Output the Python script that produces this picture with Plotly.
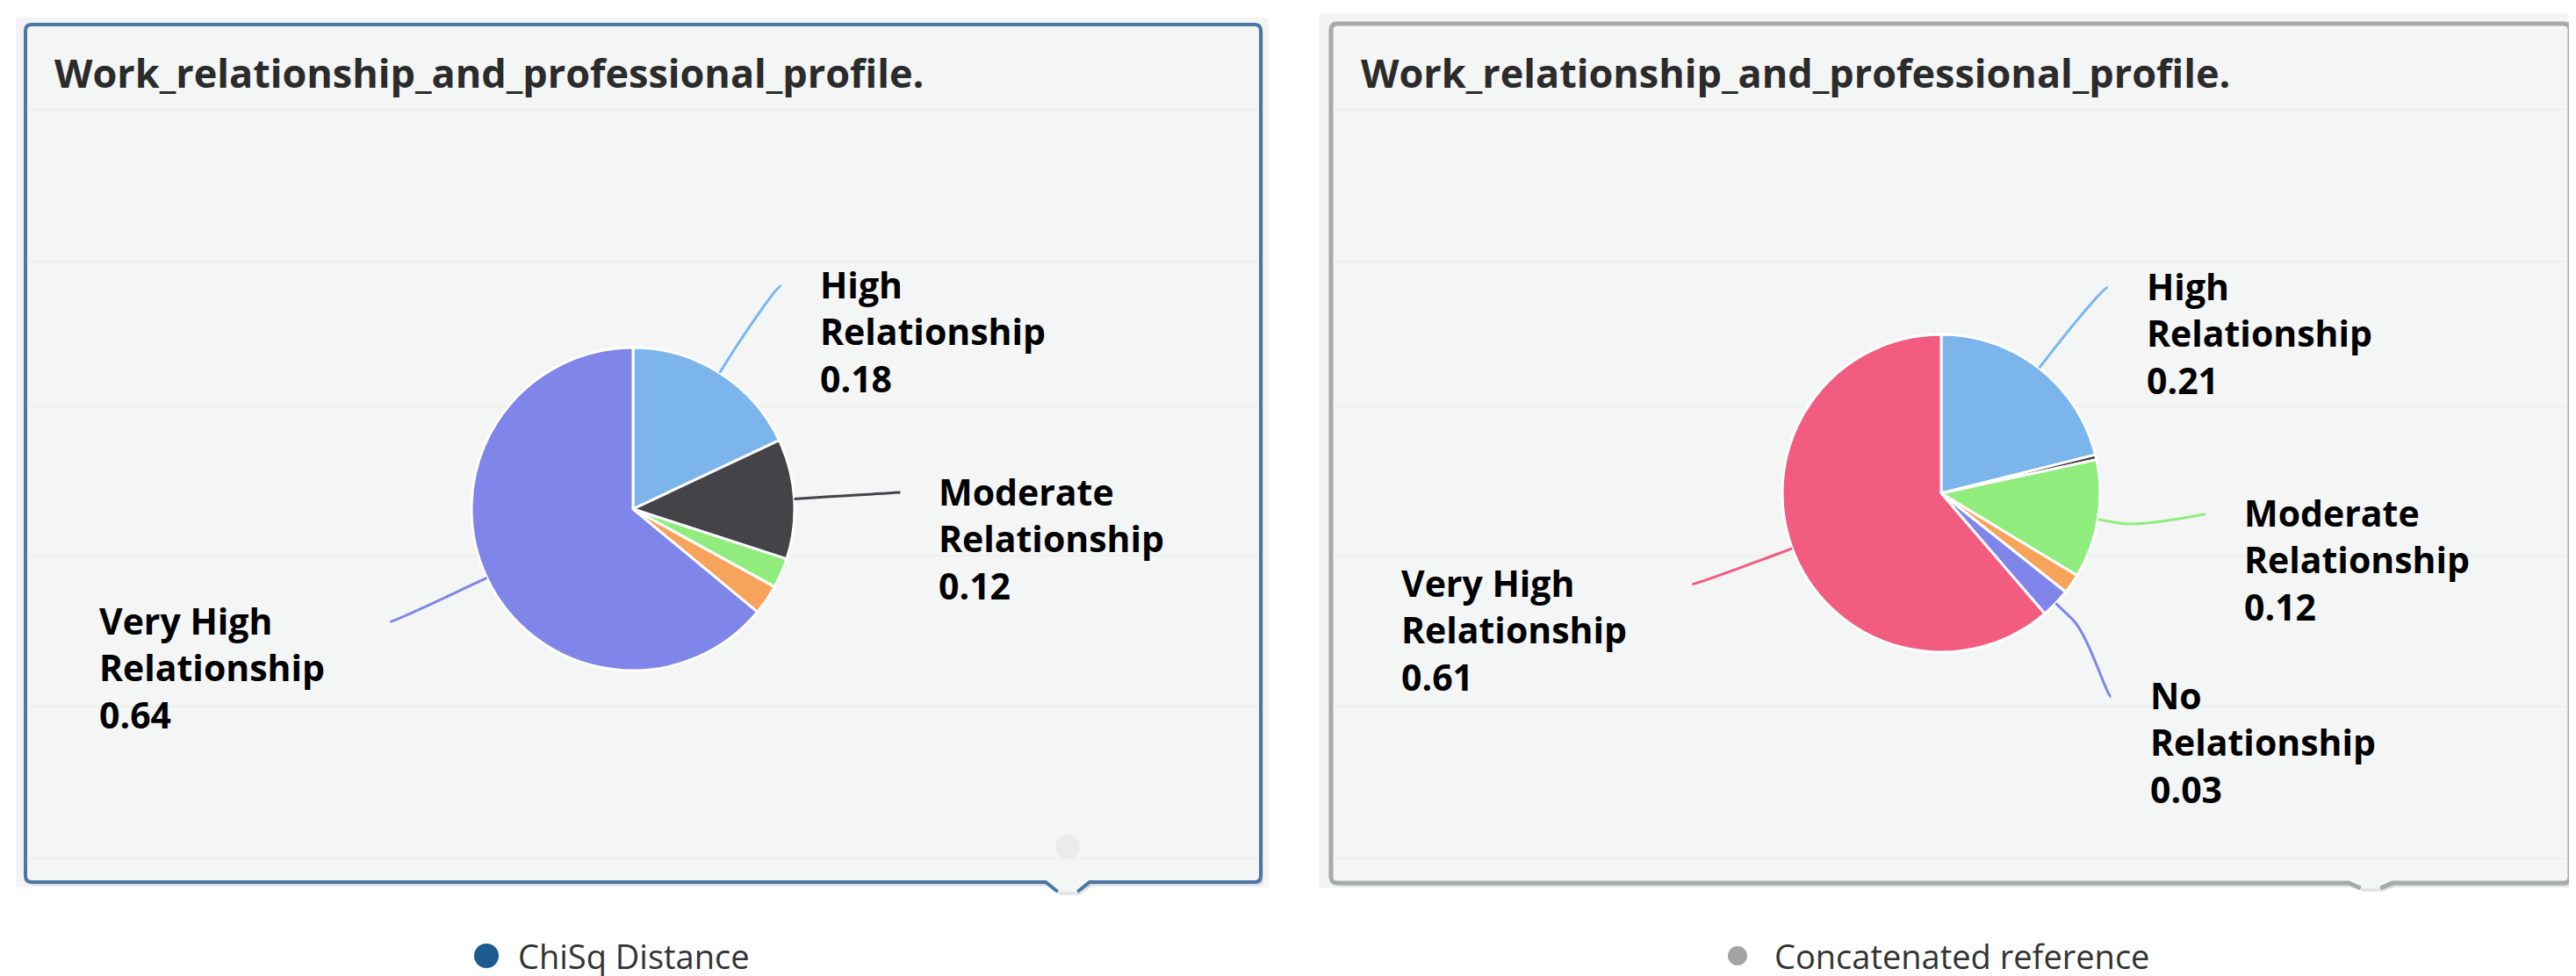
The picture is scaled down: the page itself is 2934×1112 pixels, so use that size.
import math
import plotly.graph_objects as go

# ---------------- data ----------------
chart_title = "Work_relationship_and_professional_profile."

left_series = "ChiSq Distance"
left_labels = ["High Relationship", "Moderate Relationship", "Low Relationship",
               "No Relationship", "Very High Relationship"]
left_values = [0.18, 0.12, 0.03, 0.03, 0.64]
left_shown = [True, True, False, False, True]

right_series = "Concatenated reference"
right_labels = ["High Relationship", "Unknown Relationship", "Moderate Relationship",
                "Low Relationship", "No Relationship", "Very High Relationship"]
right_values = [0.21, 0.005, 0.12, 0.02, 0.03, 0.61]
right_shown = [True, False, True, False, True, True]

palette = ["#7cb5ec", "#434348", "#90ed7d", "#f7a35c", "#8085e9", "#f15c80"]

# ---------------- layout helpers ----------------
W, H = 2934, 1112


def X(px):
    return px / W


def Y(py):
    return 1 - py / H


def P(px, py):
    return f"{X(px):.6f},{Y(py):.6f}"


FONT = "Open Sans"
panel_bg = "#f4f5f5"

panels = [
    dict(x0=21, y0=20, x1=1428, y1=997, nx=1208, nd=11, border="#4b76a6", bw=4,
         outer=(10, 12, 1437, 1003), legend_color="#1d5a8e", legend_r=14,
         legend_x=546, text_x=580, title_x=52,
         cx=713, cy=572, r=184,
         labels=left_labels, values=left_values, shown=left_shown, series=left_series),
    dict(x0=1508, y0=19, x1=2919, y1=998, nx=2692, nd=6, border="#a7a9ab", bw=5,
         outer=(1494, 8, 2925, 1004), legend_color="#a3a3a3", legend_r=11,
         legend_x=1971, text_x=2011, title_x=1540,
         cx=2203, cy=554, r=181,
         labels=right_labels, values=right_values, shown=right_shown, series=right_series),
]

grid_y = [117, 290, 455, 625, 797, 970]


def panel_outline(p, closed, dx=0, dy=0, rad=7, nw=25):
    x0, y0, x1, y1, nx, nd = p["x0"] + dx, p["y0"] + dy, p["x1"] + dx, p["y1"] + dy, p["nx"] + dx, p["nd"]
    s = f"M{P(nx + nw * 0.45, y1 + nd)} L{P(nx + nw, y1)} L{P(x1 - rad, y1)} "
    s += f"Q{P(x1, y1)} {P(x1, y1 - rad)} L{P(x1, y0 + rad)} Q{P(x1, y0)} {P(x1 - rad, y0)} "
    s += f"L{P(x0 + rad, y0)} Q{P(x0, y0)} {P(x0, y0 + rad)} L{P(x0, y1 - rad)} "
    s += f"Q{P(x0, y1)} {P(x0 + rad, y1)} L{P(nx - nw, y1)} L{P(nx - nw * 0.45, y1 + nd)}"
    if closed:
        s += " Z"
    return s


def distribute(items, slot):
    """Push label anchors apart vertically (Highcharts-like)."""
    items.sort(key=lambda d: d["y"])
    for _ in range(50):
        moved = False
        for a, b in zip(items, items[1:]):
            gap = b["y"] - a["y"]
            if gap < slot - 0.5:
                d = (slot - gap) / 2
                a["y"] -= d
                b["y"] += d
                moved = True
        if not moved:
            break
    return items


fig = go.Figure()
shapes = []
annotations = []

dist_y = 117          # label radius (vertical) beyond pie edge
dist_x = 121          # label radius (horizontal) beyond pie edge
label_slot = 208      # vertical room needed by one 3-line label
break_off = 26        # connector break distance
gap_right, gap_left = 42, 72
label_font = dict(family=FONT, size=41, color="#000000", weight=700)

for p in panels:
    ox0, oy0, ox1, oy1 = p["outer"]
    shapes.append(dict(type="rect", xref="paper", yref="paper", layer="below",
                       x0=X(ox0), x1=X(ox1), y0=Y(oy1), y1=Y(oy0),
                       fillcolor="#f3f4f4", line=dict(width=0)))
    shapes.append(dict(type="path", xref="paper", yref="paper", layer="below",
                       path=panel_outline(p, True, dx=3, dy=4),
                       fillcolor="rgba(0,0,0,0.10)", line=dict(width=0)))
    shapes.append(dict(type="path", xref="paper", yref="paper", layer="below",
                       path=panel_outline(p, True), fillcolor=panel_bg, line=dict(width=0)))
    for gy in grid_y:
        shapes.append(dict(type="line", xref="paper", yref="paper", layer="below",
                           x0=X(p["x0"] + 4), x1=X(p["x1"] - 4), y0=Y(gy), y1=Y(gy),
                           line=dict(color="#eeefef", width=2)))
    shapes.append(dict(type="path", xref="paper", yref="paper", layer="below",
                       path=panel_outline(p, False), fillcolor="rgba(0,0,0,0)",
                       line=dict(color=p["border"], width=p["bw"])))

    annotations.append(dict(text=chart_title, xref="paper", yref="paper",
                            x=X(p["title_x"]), y=Y(74), xanchor="left", yanchor="middle",
                            showarrow=False,
                            font=dict(family=FONT, size=45, color="#2b2b2b", weight=700)))

    cx, cy, r = p["cx"], p["cy"], p["r"]
    n = len(p["values"])
    fig.add_trace(go.Pie(
        labels=p["labels"], values=p["values"], sort=False, direction="clockwise",
        rotation=0, textinfo="none", showlegend=False, name=p["series"],
        marker=dict(colors=palette[:n], line=dict(color="white", width=3)),
        domain=dict(x=[X(cx - r), X(cx + r)], y=[Y(cy + r), Y(cy - r)]),
        hovertemplate="%{label}<br>%{value:.2f}<extra></extra>",
    ))

    total = sum(p["values"])
    cum = 0.0
    sides = {True: [], False: []}
    for i, (lab, val, show) in enumerate(zip(p["labels"], p["values"], p["shown"])):
        mid = (cum + val / 2) / total
        cum += val
        if not show:
            continue
        th = 2 * math.pi * mid
        sx, sy = math.sin(th), -math.cos(th)
        sides[sx >= 0].append(dict(i=i, lab=lab, val=val, sx=sx, sy=sy,
                                   y=(r + dist_y) * sy))
    for right, items in sides.items():
        for it in distribute(items, label_slot):
            i, sx, sy = it["i"], it["sx"], it["sy"]
            Rx = r + dist_x
            ey_rel = max(-Rx + 1, min(Rx - 1, it["y"]))
            ex = cx + (1 if right else -1) * math.sqrt(Rx ** 2 - ey_rel ** 2)
            ey = cy + ey_rel
            tx, ty = cx + r * sx, cy + r * sy
            bx, by = cx + (r + break_off) * sx, cy + (r + break_off) * sy
            c2x, c2y = cx + (r + 2 * break_off) * sx, cy + (r + 2 * break_off) * sy
            c1x = ex - 5 if right else ex + 5
            path = f"M{P(ex, ey)} C{P(c1x, ey)} {P(c2x, c2y)} {P(bx, by)} L{P(tx, ty)}"
            shapes.append(dict(type="path", xref="paper", yref="paper", path=path,
                               line=dict(color=palette[i], width=3),
                               fillcolor="rgba(0,0,0,0)"))
            first, last = it["lab"].rsplit(" ", 1)
            text = f"{first}<br>{last}<br>{it['val']:.2f}"
            annotations.append(dict(
                text=text, xref="paper", yref="paper",
                x=X(ex + gap_right) if right else X(ex - gap_left),
                y=Y(ey + 52), xanchor="left" if right else "right", yanchor="middle",
                align="left", showarrow=False, font=label_font))

    lx, lr = p["legend_x"], p["legend_r"]
    shapes.append(dict(type="circle", xref="paper", yref="paper",
                       x0=X(lx - lr), x1=X(lx + lr), y0=Y(1081 + lr), y1=Y(1081 - lr),
                       fillcolor=p["legend_color"], line=dict(width=0)))
    annotations.append(dict(text=p["series"], xref="paper", yref="paper",
                            x=X(p["text_x"]), y=Y(1081), xanchor="left", yanchor="middle",
                            showarrow=False,
                            font=dict(family=FONT, size=38, color="#333333")))

shapes.append(dict(type="circle", xref="paper", yref="paper", layer="below",
                   x0=X(1194), x1=X(1222), y0=Y(971), y1=Y(943),
                   fillcolor="#ebebeb", line=dict(width=0)))

fig.update_layout(
    width=W, height=H, margin=dict(l=0, r=0, t=0, b=0),
    paper_bgcolor="white", plot_bgcolor="white",
    shapes=shapes, annotations=annotations, showlegend=False,
)

fig.write_html("out.html", config={"displayModeBar": False})
